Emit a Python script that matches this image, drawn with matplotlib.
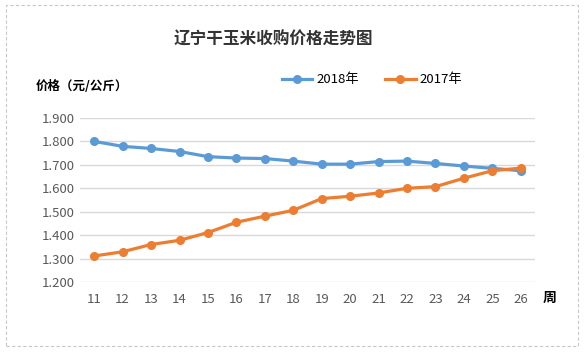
import matplotlib.pyplot as plt
from matplotlib.patches import Rectangle

plt.rcParams['font.family'] = ['Noto Sans CJK SC', 'DejaVu Sans']

# Data
weeks = [11, 12, 13, 14, 15, 16, 17, 18, 19, 20, 21, 22, 23, 24, 25, 26]
price_2018 = [1.800, 1.779, 1.770, 1.757, 1.735, 1.729, 1.727, 1.716, 1.703, 1.703,
              1.714, 1.716, 1.706, 1.695, 1.685, 1.675]
price_2017 = [1.311, 1.329, 1.360, 1.378, 1.411, 1.455, 1.481, 1.506, 1.556, 1.566,
              1.580, 1.600, 1.607, 1.643, 1.675, 1.686]
yticks = [1.2, 1.3, 1.4, 1.5, 1.6, 1.7, 1.8, 1.9]

fig = plt.figure(figsize=(5.84, 3.55), dpi=100)
ax = fig.add_axes([80 / 584, 1 - 282 / 355, 455 / 584, 164 / 355])

ax.plot(weeks, price_2018, color="#5B9BD5", lw=2.3, marker="o", ms=5.5, label="2018年")
ax.plot(weeks, price_2017, color="#ED7D31", lw=2.3, marker="o", ms=5.5, label="2017年")

ax.set_xlim(10.5, 26.5)
ax.set_ylim(1.2, 1.9)
ax.set_yticks(yticks)
ax.set_yticklabels(["%.3f" % v for v in yticks])
ax.set_xticks(weeks)
ax.set_xticklabels([str(w) for w in weeks])
ax.tick_params(length=0, labelsize=9.5, labelcolor="#595959", pad=8)
ax.tick_params(axis="y", pad=4)
ax.grid(axis="y", color="#D9D9D9", lw=1)
ax.set_axisbelow(True)
for s in ax.spines.values():
    s.set_visible(False)

fig.text(273 / 584, 1 - 40 / 355, "辽宁干玉米收购价格走势图", ha="center", va="center",
         fontsize=12, fontweight="bold", color="#333333")
fig.text(36 / 584, 1 - 86 / 355, "价格（元/公斤）", ha="left", va="center",
         fontsize=9, fontweight="bold", color="black")
fig.text(550 / 584, 1 - 298 / 355, "周", ha="center", va="center",
         fontsize=10, fontweight="bold", color="black")

ax.legend(loc="center", bbox_to_anchor=(372 / 584, 1 - 80 / 355), bbox_transform=fig.transFigure,
          ncol=2, frameon=False, fontsize=9.5, handlelength=2.3, columnspacing=2.0,
          handletextpad=0.3)

fig.patches.append(Rectangle((6 / 584, 1 - 346 / 355), 572 / 584, 341 / 355,
                             transform=fig.transFigure, fill=False, ec="#C8C8C8",
                             ls=(0, (3, 2)), lw=0.8))

fig.savefig("out.png", dpi=100)
